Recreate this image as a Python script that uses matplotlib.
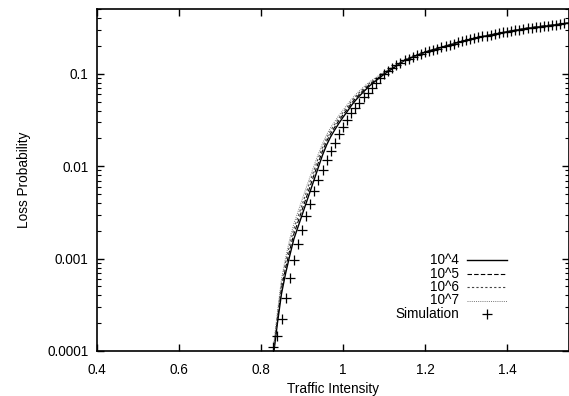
import matplotlib
matplotlib.use("Agg")
import matplotlib.pyplot as plt
from matplotlib.lines import Line2D
from matplotlib.ticker import FixedLocator, FuncFormatter, LogLocator, NullFormatter

plt.rcParams['font.family'] = ['Liberation Sans', 'DejaVu Sans']

# analytic curves, log10 of loss probability vs traffic intensity
curve_x = [0.83, 0.84, 0.85, 0.86, 0.87, 0.88, 0.89, 0.90, 0.91, 0.92, 0.93, 0.94,
           0.95, 0.96, 0.97, 0.98, 0.99, 1.00, 1.01, 1.02, 1.03, 1.04, 1.05, 1.06,
           1.07, 1.08, 1.09, 1.10, 1.15, 1.20, 1.25, 1.30, 1.35, 1.40, 1.45, 1.50, 1.55]
log_1e4 = [-4.06, -3.70, -3.38, -3.16, -2.97, -2.79, -2.66, -2.53, -2.40, -2.27, -2.14, -2.01,
           -1.88, -1.77, -1.68, -1.605, -1.535, -1.47, -1.41, -1.345, -1.29, -1.24, -1.195, -1.15,
           -1.11, -1.075, -1.04, -1.005, -0.855, -0.765, -0.70, -0.637, -0.587, -0.544, -0.505, -0.477, -0.450]
log_1e5 = [-4.03, -3.66, -3.32, -3.10, -2.91, -2.735, -2.605, -2.475, -2.345, -2.215, -2.085, -1.96,
           -1.835, -1.73, -1.645, -1.575, -1.505, -1.443, -1.385, -1.322, -1.268, -1.22, -1.177, -1.134,
           -1.096, -1.063, -1.03, -0.997, -0.852, -0.765, -0.70, -0.637, -0.587, -0.544, -0.505, -0.477, -0.450]
log_1e6 = [-4.00, -3.62, -3.27, -3.04, -2.85, -2.68, -2.55, -2.42, -2.29, -2.16, -2.035, -1.91,
           -1.795, -1.695, -1.612, -1.545, -1.478, -1.418, -1.36, -1.30, -1.248, -1.202, -1.16, -1.12,
           -1.083, -1.052, -1.02, -0.99, -0.849, -0.764, -0.70, -0.637, -0.587, -0.544, -0.505, -0.477, -0.450]
log_1e7 = [-3.97, -3.58, -3.22, -2.99, -2.79, -2.625, -2.495, -2.365, -2.235, -2.11, -1.985, -1.865,
           -1.755, -1.66, -1.58, -1.515, -1.45, -1.392, -1.335, -1.278, -1.228, -1.184, -1.143, -1.105,
           -1.07, -1.04, -1.01, -0.982, -0.846, -0.763, -0.70, -0.637, -0.587, -0.544, -0.505, -0.477, -0.450]

# simulation points
sim_x = [0.83, 0.84, 0.85, 0.86, 0.87, 0.88, 0.89, 0.90, 0.91, 0.92, 0.93, 0.94, 0.95, 0.96,
         0.97, 0.98, 0.99, 1.00, 1.01, 1.02, 1.03, 1.04, 1.05, 1.06, 1.07, 1.08, 1.09, 1.10,
         1.11, 1.12, 1.13, 1.14, 1.15, 1.16, 1.17, 1.18, 1.19, 1.20, 1.21, 1.22, 1.23, 1.24,
         1.25, 1.26, 1.27, 1.28, 1.29, 1.30, 1.31, 1.32, 1.33, 1.34, 1.35, 1.36, 1.37, 1.38,
         1.39, 1.40, 1.41, 1.42, 1.43, 1.44, 1.45, 1.46, 1.47, 1.48, 1.49, 1.50, 1.51, 1.52,
         1.53, 1.54, 1.55]
sim_y = [0.000110, 0.000145, 0.000223, 0.000372, 0.000612, 0.00096, 0.00144, 0.00206, 0.00286,
         0.00393, 0.00543, 0.00715, 0.00916, 0.01175, 0.01472, 0.01807, 0.02228, 0.02692,
         0.03184, 0.03758, 0.04256, 0.04898, 0.05585, 0.06180, 0.07000, 0.0793, 0.0891, 0.100,
         0.108, 0.116, 0.124, 0.132, 0.140, 0.146, 0.153, 0.160, 0.166, 0.171, 0.176, 0.182,
         0.188, 0.194, 0.200, 0.206, 0.213, 0.219, 0.225, 0.231, 0.237, 0.242, 0.248, 0.254,
         0.259, 0.265, 0.270, 0.275, 0.281, 0.286, 0.291, 0.296, 0.301, 0.306, 0.310, 0.315,
         0.320, 0.324, 0.329, 0.333, 0.338, 0.342, 0.346, 0.351, 0.355]

labels = ['10^4', '10^5', '10^6', '10^7', 'Simulation']

fig = plt.figure(figsize=(5.69, 3.96), dpi=100)
ax = fig.add_axes([97 / 569, 1 - 351 / 396, (568.5 - 97) / 569, (351 - 9.3) / 396])

styles = [
    dict(color='black', lw=1.0, ls='-'),
    dict(color='black', lw=0.8, ls=(0, (4, 2))),
    dict(color='#444444', lw=0.8, ls=(0, (2, 2))),
    dict(color='#777777', lw=0.7, ls=(0, (1, 1.2))),
]
for ys, st in zip([log_1e4, log_1e5, log_1e6, log_1e7], styles):
    ax.plot(curve_x, [10 ** v for v in ys], **st)

ax.plot(sim_x, sim_y, ls='none', marker='+', ms=6.5, mew=0.9, color='black')

ax.set_yscale('log')
ax.set_xlim(0.4, 1.55)
ax.set_ylim(1e-4, 0.5)

ax.xaxis.set_major_locator(FixedLocator([0.4, 0.6, 0.8, 1.0, 1.2, 1.4]))
ax.xaxis.set_major_formatter(FuncFormatter(lambda v, p: '%g' % v))
ax.yaxis.set_major_locator(FixedLocator([1e-4, 1e-3, 1e-2, 1e-1]))
ax.yaxis.set_major_formatter(FuncFormatter(lambda v, p: '%g' % v))
ax.yaxis.set_minor_locator(LogLocator(base=10, subs=range(2, 10)))
ax.yaxis.set_minor_formatter(NullFormatter())

ax.tick_params(which='both', direction='in', top=True, right=True, labelsize=9.8, color='black')
ax.tick_params(which='major', length=5, width=1.0)
ax.tick_params(which='minor', length=3, width=0.8)
ax.tick_params(axis='x', pad=9)
ax.tick_params(axis='y', pad=6)
for s in ax.spines.values():
    s.set_linewidth(1.2)

ax.set_xlabel('Traffic Intensity', fontsize=9.8, labelpad=3)
ax.set_ylabel('Loss Probability', fontsize=9.8, labelpad=12)

# gnuplot-style key: right-aligned labels, sample to the right
tr = ax.transAxes
key_top = (351 - 260) / (351 - 9.3)
row_h = 13.5 / (351 - 9.3)
tx = (459 - 97) / (568.5 - 97)
lx0 = (467 - 97) / (568.5 - 97)
lx1 = (507 - 97) / (568.5 - 97)
for i, lab in enumerate(labels):
    yy = key_top - i * row_h
    ax.text(tx, yy, lab, transform=tr, ha='right', va='center', fontsize=9.8)
    if i < 4:
        ax.add_line(Line2D([lx0, lx1], [yy, yy], transform=tr, **styles[i]))
    else:
        ax.add_line(Line2D([(lx0 + lx1) / 2], [yy], transform=tr, ls='none',
                           marker='+', ms=6.5, mew=0.9, color='black'))

fig.savefig('out.png', dpi=100)
